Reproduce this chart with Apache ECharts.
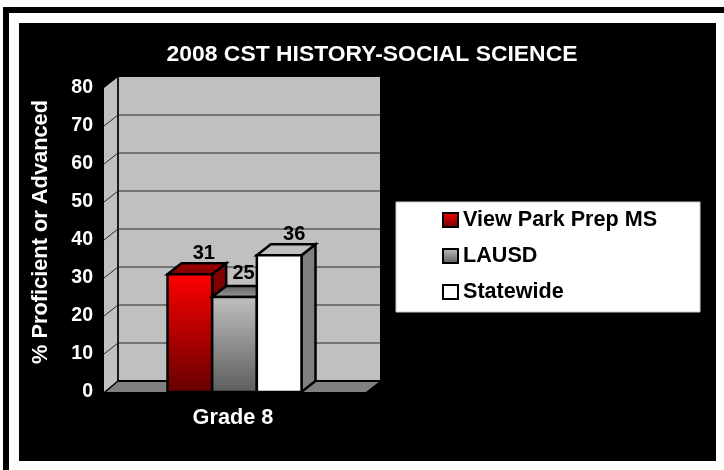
<!DOCTYPE html>
<html>
<head>
<meta charset="utf-8">
<style>html,body{margin:0;padding:0;background:#fff}#c{width:724px;height:470px}</style>
<script src="https://cdn.jsdelivr.net/npm/echarts@6/dist/echarts.min.js"></script>
</head>
<body>
<div id="c"></div>
<script>
const categories = ['Grade 8'];
const seriesNames = ['View Park Prep MS', 'LAUSD', 'Statewide'];
const viewParkValues = [31];
const lausdValues = [25];
const statewideValues = [36];
const yTicks = [0, 10, 20, 30, 40, 50, 60, 70, 80];

const FONT = '"Liberation Sans", Arial, sans-serif';
const DX = 14, DY = -11;
const vGrad = (a, b) => new echarts.graphic.LinearGradient(0, 0, 0, 1, [{offset: 0, color: a}, {offset: 1, color: b}]);

const styles = [
  {front: vGrad('#ff0000', '#660000'), top: vGrad('#a80000', '#7a0000'), side: '#800000', labelDx: 0, labelDy: 0, pos: -1},
  {front: vGrad('#c0c0c0', '#5c5c5c'), top: vGrad('#5a5a5a', '#a0a0a0'), side: '#808080', labelDx: -5, labelDy: -3, pos: 0},
  {front: '#ffffff', top: '#c0c0c0', side: '#808080', labelDx: 1, labelDy: 0, pos: 1}
];
const BAR_FRACTION = 0.1705;

function renderWalls(params, api) {
  const bw = api.size([1, 0])[0];
  const cx = api.coord([0, 0])[0];
  const l = cx - bw / 2, r = cx + bw / 2;
  const y0 = api.coord([0, 0])[1], yT = api.coord([0, yTicks[yTicks.length - 1]])[1];
  const kids = [];
  kids.push({type: 'polygon', shape: {points: [[l + DX, yT + DY], [r + DX, yT + DY], [r + DX, y0 + DY], [l + DX, y0 + DY]]}, style: {fill: '#c0c0c0'}});
  kids.push({type: 'polygon', shape: {points: [[l, yT], [l + DX, yT + DY], [l + DX, y0 + DY], [l, y0]]}, style: {fill: '#c0c0c0'}});
  kids.push({type: 'polygon', shape: {points: [[l, y0], [l + DX, y0 + DY], [r + DX, y0 + DY], [r, y0]]}, style: {fill: '#808080'}});
  yTicks.forEach(function (t) {
    if (t === 0 || t === yTicks[yTicks.length - 1]) return;
    const y = api.coord([0, t])[1];
    kids.push({type: 'polyline', shape: {points: [[l, y], [l + DX, y + DY], [r + DX, y + DY]]}, style: {fill: null, stroke: '#2a2a2a', lineWidth: 1}});
  });
  kids.push({type: 'line', shape: {x1: l + DX, y1: yT + DY, x2: l + DX, y2: y0 + DY}, style: {stroke: '#1a1a1a', lineWidth: 2}});
  kids.push({type: 'line', shape: {x1: l + DX - 1, y1: y0 + DY, x2: r + DX, y2: y0 + DY}, style: {stroke: '#000', lineWidth: 2}});
  kids.push({type: 'line', shape: {x1: l + DX, y1: y0 + DY, x2: l + 1, y2: y0}, style: {stroke: '#000', lineWidth: 1.5}});
  return {type: 'group', children: kids};
}

function makeBarRenderer(idx) {
  return function (params, api) {
    const s = styles[idx];
    const bw = api.size([1, 0])[0];
    const w = bw * BAR_FRACTION;
    const cx = api.coord([api.value(0), 0])[0] + s.pos * w - 0.5;
    const yB = api.coord([api.value(0), 0])[1];
    const yV = api.coord([api.value(0), api.value(1)])[1];
    const l = cx - w / 2, r = cx + w / 2;
    const line = {stroke: '#000', lineWidth: 2.5, lineJoin: 'miter'};
    return {type: 'group', children: [
      {type: 'polygon', shape: {points: [[r, yV], [r + DX, yV + DY], [r + DX, yB + DY], [r, yB]]}, style: Object.assign({fill: s.side}, line)},
      {type: 'polygon', shape: {points: [[l, yV], [l + DX, yV + DY], [r + DX, yV + DY], [r, yV]]}, style: Object.assign({fill: s.top}, line)},
      {type: 'rect', shape: {x: l, y: yV, width: w, height: yB - yV}, style: Object.assign({fill: s.front}, line)},
      {type: 'text', z2: 50, style: {text: String(api.value(1)), x: cx + DX + s.labelDx, y: yV + DY - 10 + s.labelDy, align: 'center', verticalAlign: 'middle', fill: '#000', font: 'bold 20px ' + FONT}}
    ]};
  };
}

function barSeries(idx, values, z) {
  return {
    type: 'custom', name: seriesNames[idx], z: z, clip: false,
    coordinateSystem: 'cartesian2d',
    renderItem: makeBarRenderer(idx),
    encode: {x: 0, y: 1},
    itemStyle: {color: styles[idx].front, borderColor: '#000', borderWidth: 2},
    data: values.map((v, i) => [i, v])
  };
}

const chart = echarts.init(document.getElementById('c'), null, {renderer: 'canvas', width: 724, height: 470});
chart.setOption({
  animation: false,
  backgroundColor: '#ffffff',
  graphic: {elements: [
    {type: 'rect', z: -10, shape: {x: 3, y: 7, width: 6, height: 463}, style: {fill: '#000'}},
    {type: 'rect', z: -10, shape: {x: 3, y: 7, width: 721, height: 6}, style: {fill: '#000'}},
    {type: 'rect', z: -10, shape: {x: 19, y: 23, width: 697, height: 438}, style: {fill: '#000'}}
  ]},
  title: {
    text: '2008 CST HISTORY-SOCIAL SCIENCE', left: 367, top: 38, textAlign: 'center',
    textStyle: {color: '#fff', fontFamily: FONT, fontWeight: 'bold', fontSize: 22.9}
  },
  legend: {
    orient: 'vertical', left: 396, top: 202, selectedMode: false,
    backgroundColor: '#fff', borderColor: '#c8c8c8', borderWidth: 1,
    padding: [7, 43, 9, 46], itemGap: 14, itemWidth: 15, itemHeight: 14,
    icon: 'rect',
    textStyle: {color: '#000', fontFamily: FONT, fontWeight: 'bold', fontSize: 21.6, lineHeight: 21},
    data: seriesNames.map((n) => ({name: n, icon: 'rect'}))
  },
  grid: {left: 104, right: 358, top: 88, bottom: 78, containLabel: false},
  xAxis: {
    type: 'category', data: categories,
    axisLine: {show: false}, axisTick: {show: false}, splitLine: {show: false},
    axisLabel: {color: '#fff', fontFamily: FONT, fontWeight: 'bold', fontSize: 21.7, margin: 15, padding: [0, 4, 0, 0]}
  },
  yAxis: {
    type: 'value', min: 0, max: 80, interval: 10,
    name: '% Proficient or Advanced', nameLocation: 'middle', nameRotate: 90, nameGap: 52,
    nameTextStyle: {color: '#fff', fontFamily: FONT, fontWeight: 'bold', fontSize: 21.8, padding: [0, 0, 0, 16]},
    axisLine: {show: false}, axisTick: {show: false}, splitLine: {show: false},
    axisLabel: {color: '#fff', fontFamily: FONT, fontWeight: 'bold', fontSize: 19.5, margin: 11, padding: [6, 0, 0, 0]}
  },
  series: [
    {type: 'custom', name: '_walls', z: 1, clip: false, renderItem: renderWalls, encode: {x: 0, y: 1}, data: [[0, 0]], silent: true},
    barSeries(0, viewParkValues, 3),
    barSeries(1, lausdValues, 4),
    barSeries(2, statewideValues, 5)
  ]
});
</script>
</body>
</html>
